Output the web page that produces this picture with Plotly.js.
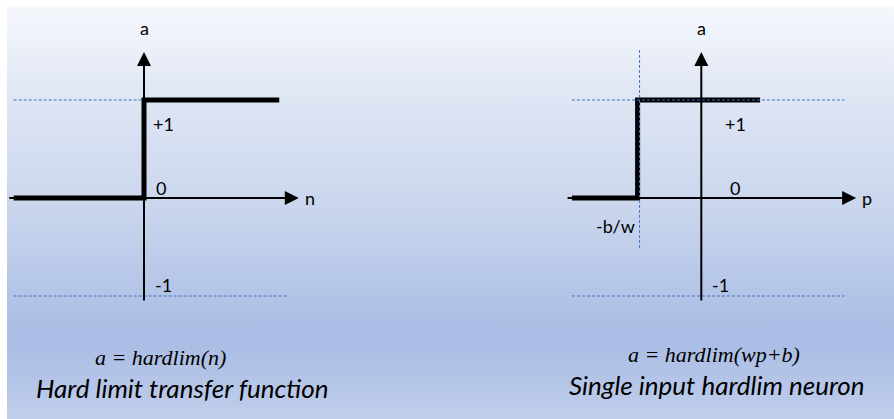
<!DOCTYPE html>
<html>
<head>
<meta charset="utf-8">
<script src="https://cdn.plot.ly/plotly-3.0.1.min.js"></script>
<style>
  html, body { margin: 0; padding: 0; background: #ffffff; }
  #wrap { position: relative; width: 894px; height: 419px; overflow: hidden; }
  #bg { position: absolute; left: 7px; top: 6px; width: 887px; height: 413px;
        background: linear-gradient(to bottom, #f5f7fc 0%, #dfe6f4 22%, #c9d5ed 50%, #b3c4e7 70%, #a9bce4 80%, #b6c6e8 92%, #c0ceea 100%); }
  #chart { position: absolute; left: 0; top: 0; width: 894px; height: 419px; }
</style>
</head>
<body>
<div id="wrap"><div id="bg"></div><div id="chart"></div></div>
<script>
// ---- data ----
// Left: a = hardlim(n)
const leftStepN = [-1.33, 0, 0, 1.38];
const leftStepA = [0, 0, 1, 1];
const leftAxisN = [-1.39, 1.58];      // horizontal axis extent (n)
const leftAxisA = [-1.06, 1.49];      // vertical axis extent (a)
const leftLimitPlusN = [-1.33, 0];    // dashed +1 guide extent
const leftLimitMinusN = [-1.33, 1.46];// dashed -1 guide extent

// Right: a = hardlim(wp+b)
const biasPoint = -0.65;              // -b/w
const rightStepP = [-1.32, biasPoint, biasPoint, 0.60];
const rightStepA = [0, 0, 1, 1];
const rightAxisP = [-1.38, 1.58];
const rightAxisA = [-1.06, 1.49];
const rightLimitP = [-1.32, 1.46];
const rightBiasGuideA = [-0.51, 1.53];

const limitValues = [1, -1];
const tickLabels = ['+1', '0', '-1'];

// ---- traces ----
const black = '#000000';
const guide = '#4472c4';
const traces = [];

traces.push({x: leftStepN, y: leftStepA, xaxis: 'x', yaxis: 'y', mode: 'lines',
  line: {color: black, width: 5}, hoverinfo: 'skip'});
traces.push({x: leftLimitPlusN, y: [limitValues[0], limitValues[0]], xaxis: 'x', yaxis: 'y', mode: 'lines',
  line: {color: guide, width: 1, dash: '3px,2px'}, hoverinfo: 'skip'});
traces.push({x: leftLimitMinusN, y: [limitValues[1], limitValues[1]], xaxis: 'x', yaxis: 'y', mode: 'lines',
  line: {color: guide, width: 1, dash: '3px,2px'}, hoverinfo: 'skip'});

traces.push({x: rightStepP, y: rightStepA, xaxis: 'x2', yaxis: 'y', mode: 'lines',
  line: {color: black, width: 5}, hoverinfo: 'skip'});
traces.push({x: rightLimitP, y: [limitValues[0], limitValues[0]], xaxis: 'x2', yaxis: 'y', mode: 'lines',
  line: {color: guide, width: 1, dash: '3px,2px'}, hoverinfo: 'skip'});
traces.push({x: rightLimitP, y: [limitValues[1], limitValues[1]], xaxis: 'x2', yaxis: 'y', mode: 'lines',
  line: {color: guide, width: 1, dash: '3px,2px'}, hoverinfo: 'skip'});
traces.push({x: [biasPoint + 0.02, biasPoint + 0.02], y: rightBiasGuideA, xaxis: 'x2', yaxis: 'y', mode: 'lines',
  line: {color: guide, width: 1, dash: '3px,2px'}, hoverinfo: 'skip'});

// ---- annotations ----
const labelFont = {family: 'Lato, "Open Sans", sans-serif', size: 18, color: black};
function arrow(xr, x, y, ax, ay) {
  return {xref: xr, yref: 'y', axref: xr, ayref: 'y', x: x, y: y, ax: ax, ay: ay,
    text: '', showarrow: true, arrowhead: 2, arrowsize: 1.4, arrowwidth: 2, arrowcolor: black, standoff: 0, startstandoff: 0};
}
function label(xr, x, y, t, anchor) {
  return {xref: xr, yref: 'y', x: x, y: y, text: t, showarrow: false, font: labelFont,
    xanchor: anchor || 'center', yanchor: 'middle'};
}
const annotations = [
  arrow('x', leftAxisN[1], 0, leftAxisN[0], 0),
  arrow('x', 0, leftAxisA[1], 0, leftAxisA[0]),
  label('x', 0, 1.735, 'a'),
  label('x', 1.69, 0, 'n'),
  label('x', 0.195, 0.755, tickLabels[0]),
  label('x', 0.175, 0.10, tickLabels[1]),
  label('x', 0.195, -0.89, tickLabels[2]),
  arrow('x2', rightAxisP[1], 0, rightAxisP[0], 0),
  arrow('x2', 0, rightAxisA[1], 0, rightAxisA[0]),
  label('x2', 0, 1.735, 'a'),
  label('x2', 1.69, 0, 'p'),
  label('x2', 0.345, 0.755, tickLabels[0]),
  label('x2', 0.345, 0.10, tickLabels[1]),
  label('x2', 0.20, -0.89, tickLabels[2]),
  label('x2', -0.88, -0.29, '-b/w'),
  {xref: 'paper', yref: 'paper', x: 160/894, y: 1 - 357/419, text: 'a = hardlim(n)', showarrow: false,
    font: {family: '"Liberation Serif", "DejaVu Serif", serif', size: 22, color: black, style: 'italic'},
    xanchor: 'center', yanchor: 'middle'},
  {xref: 'paper', yref: 'paper', x: 182/894, y: 1 - 388/419, text: 'Hard limit transfer function', showarrow: false,
    font: {family: 'Lato, "Open Sans", sans-serif', size: 26, color: black, style: 'italic'},
    xanchor: 'center', yanchor: 'middle'},
  {xref: 'paper', yref: 'paper', x: 714/894, y: 1 - 354/419, text: 'a = hardlim(wp+b)', showarrow: false,
    font: {family: '"Liberation Serif", "DejaVu Serif", serif', size: 22, color: black, style: 'italic'},
    xanchor: 'center', yanchor: 'middle'},
  {xref: 'paper', yref: 'paper', x: 717/894, y: 1 - 385/419, text: 'Single input hardlim neuron', showarrow: false,
    font: {family: 'Lato, "Open Sans", sans-serif', size: 26, color: black, style: 'italic'},
    xanchor: 'center', yanchor: 'middle'}
];

const hidden = {visible: false, showgrid: false, zeroline: false, fixedrange: true};
const layout = {
  width: 894, height: 419,
  margin: {l: 0, r: 0, t: 0, b: 0, pad: 0},
  paper_bgcolor: 'rgba(0,0,0,0)', plot_bgcolor: 'rgba(0,0,0,0)',
  showlegend: false,
  xaxis: Object.assign({domain: [0, 0.5], range: [-1.4694, 3.0918], anchor: 'y'}, hidden),
  xaxis2: Object.assign({domain: [0.5, 1], range: [-2.5949, 1.9663], anchor: 'y'}, hidden),
  yaxis: Object.assign({domain: [0, 1], range: [-2.2551, 2.0204], anchor: 'x'}, hidden),
  annotations: annotations
};

Plotly.newPlot('chart', traces, layout, {displayModeBar: false, staticPlot: true});
</script>
</body>
</html>
